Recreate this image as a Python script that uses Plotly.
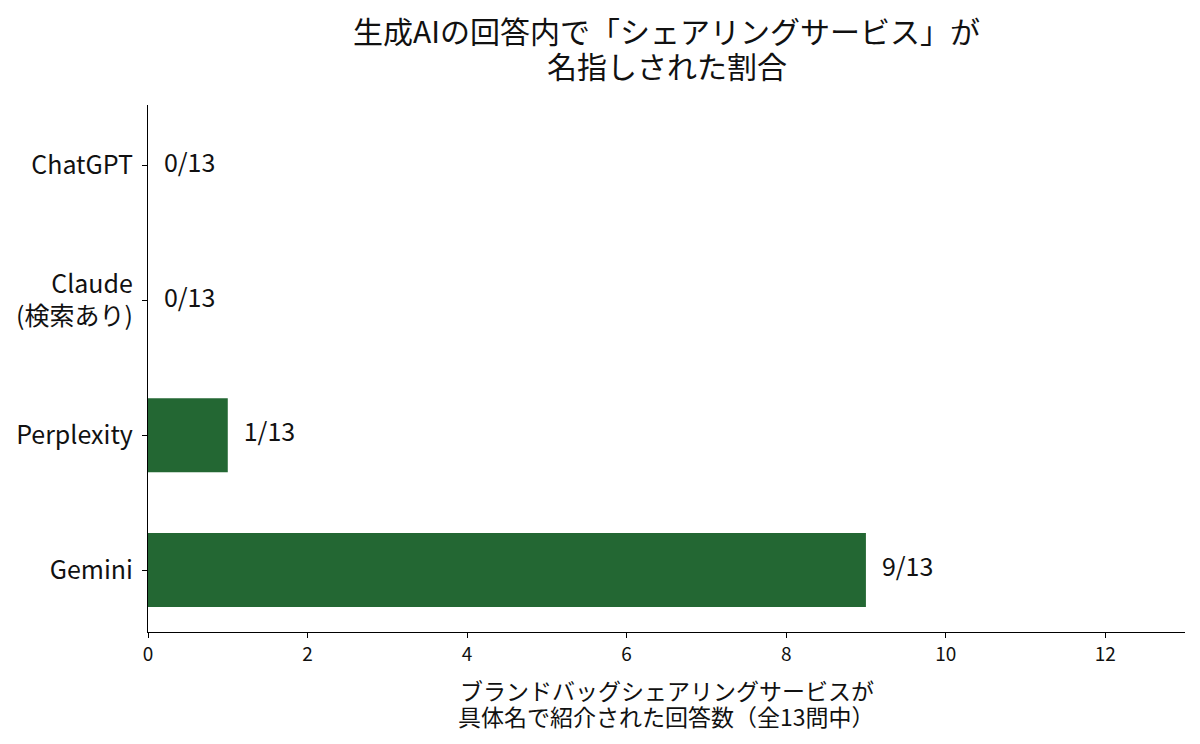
import plotly.graph_objects as go

categories = ["Gemini", "Perplexity", "Claude<br>(検索あり)", "ChatGPT"]
values = [9, 1, 0, 0]
labels = ["9/13", "1/13", "0/13", "0/13"]
x_ticks = [0, 2, 4, 6, 8, 10, 12]
title_lines = ["生成AIの回答内で「シェアリングサービス」が", "名指しされた割合"]
xtitle_lines = ["ブランドバッグシェアリングサービスが", "具体名で紹介された回答数（全13問中）"]

FONT = "Noto Sans CJK JP"
GREEN = "#236733"
INK = "#111111"

fig = go.Figure()
fig.add_trace(go.Bar(
    y=list(range(len(categories))),
    x=values,
    orientation="h",
    width=0.55,
    marker=dict(color=GREEN, line=dict(width=0)),
    hoverinfo="skip",
))
fig.add_trace(go.Scatter(
    y=list(range(len(categories))),
    x=[v + 0.2 for v in values],
    mode="text",
    text=labels,
    textposition="middle right",
    textfont=dict(family=FONT, size=25, color=INK),
    hoverinfo="skip",
))

H = 744
annotations = []
for txt, yc in zip(title_lines, [30, 65]):
    annotations.append(dict(text=txt, x=0.5, xref="paper", y=1 - yc / H, yref="paper",
                            xanchor="center", yanchor="middle", showarrow=False,
                            font=dict(family=FONT, size=30, color=INK)))
for txt, yc in zip(xtitle_lines, [690, 716]):
    annotations.append(dict(text=txt, x=0.5, xref="paper", y=1 - yc / H, yref="paper",
                            xanchor="center", yanchor="middle", showarrow=False,
                            font=dict(family=FONT, size=23, color=INK)))

# convert paper fractions: paper spans plot area, so recompute with margins
top, bottom = 105, 112
ph = H - top - bottom
for a in annotations:
    yc = (1 - a["y"]) * H
    a["y"] = (H - bottom - yc) / ph

fig.update_layout(
    width=1200, height=H,
    margin=dict(l=148, r=15, t=top, b=bottom),
    paper_bgcolor="white", plot_bgcolor="white",
    showlegend=False,
    font=dict(family=FONT, color=INK),
    annotations=annotations,
    xaxis=dict(
        range=[0, 13], tickvals=x_ticks, ticktext=[str(t) for t in x_ticks],
        showgrid=False, zeroline=False,
        showline=True, linecolor="black", linewidth=1.2,
        ticks="outside", ticklen=5, tickcolor="black",
        tickfont=dict(family=FONT, size=19, color=INK),
    ),
    yaxis=dict(
        range=[-0.46, 3.45],
        tickvals=list(range(len(categories))), ticktext=categories,
        showgrid=False, zeroline=False,
        showline=True, linecolor="black", linewidth=1.2,
        ticks="outside", ticklen=5, tickcolor="black",
        tickfont=dict(family=FONT, size=25, color=INK),
        ticklabelstandoff=4,
    ),
)

fig.write_html("out.html")
